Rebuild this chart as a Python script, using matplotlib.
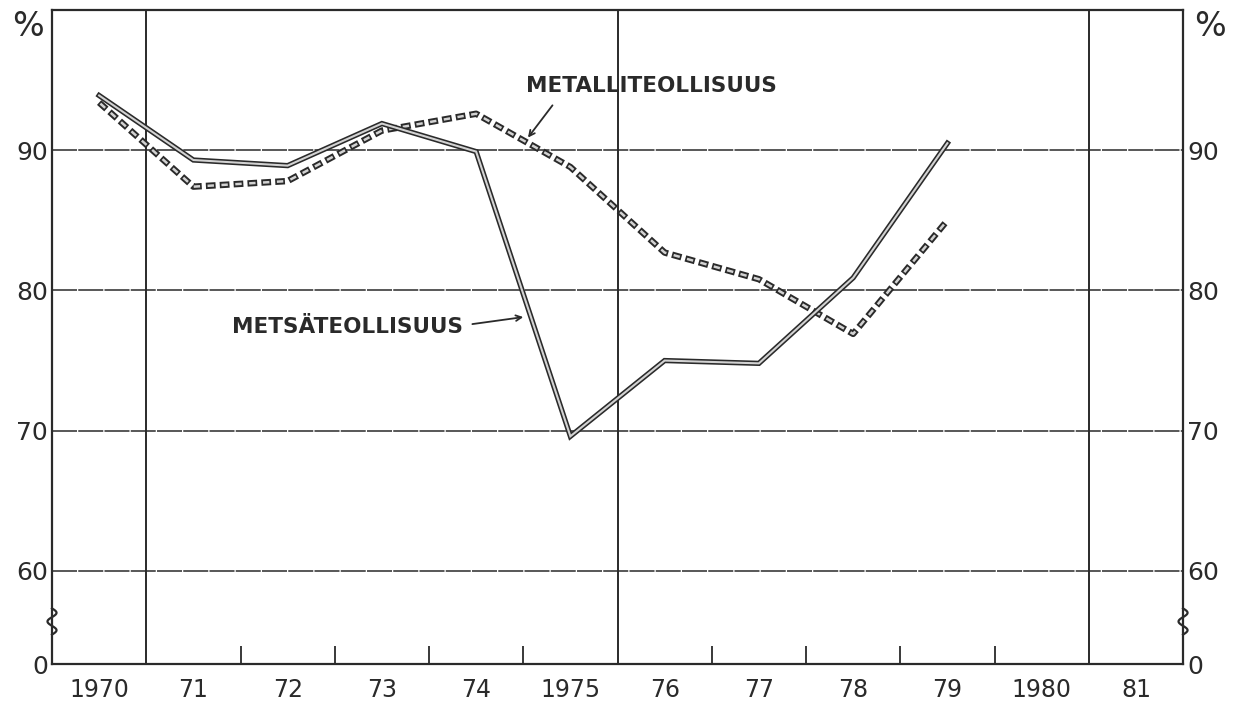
import matplotlib
matplotlib.use('Agg')
import matplotlib.pyplot as plt
import numpy as np

# ================= data =================
years = [1970, 1971, 1972, 1973, 1974, 1975, 1976, 1977, 1978, 1979]
metsa = [93.9, 89.3, 88.9, 91.9, 89.9, 69.6, 75.0, 74.8, 80.9, 90.5]   # Metsäteollisuus
metalli = [93.4, 87.4, 87.8, 91.4, 92.6, 88.8, 82.7, 80.8, 76.9, 85.0]  # Metalliteollisuus

year_labels = ['1970', '71', '72', '73', '74', '1975', '76', '77', '78', '79', '1980', '81']
y_grid = [60, 70, 80, 90]
y_bottom = 53.36   # broken axis, shown as "0"

# ================= style =================
plt.rcParams['font.family'] = ['DejaVu Sans']
plt.rcParams['lines.scale_dashes'] = False
INK = '#2a2a2a'
FILL = '#d2d2d2'

fig = plt.figure(figsize=(12.41, 7.07), dpi=100)
ax = fig.add_axes([0.0419, 0.0608, 0.9114, 0.9251])
ax.set_xlim(1970, 1982)
ax.set_ylim(y_bottom, 100)

# grid
for v in y_grid:
    ax.axhline(v, color=INK, lw=1.1, ls=(0, (18, 0.9)), zorder=1)
for x in [1971, 1976, 1981]:
    ax.axvline(x, color=INK, lw=1.4, zorder=1)

xs = np.array(years) + 0.5

# metalliteollisuus: hollow dashes
ax.plot(xs, metalli, color=INK, lw=4.6, ls=(0, (7, 3)),
        dash_capstyle='butt', zorder=3)
ax.plot(xs, metalli, color=FILL, lw=1.8, ls=(8.8, (4.6, 5.4)),
        dash_capstyle='butt', zorder=4)

# metsateollisuus: double line
ax.plot(xs, metsa, color=INK, lw=3.8, solid_joinstyle='miter', zorder=5)
ax.plot(xs, metsa, color=FILL, lw=1.5, solid_joinstyle='miter', zorder=6)

# annotations
ax.text(1975.03, 94.6, 'METALLITEOLLISUUS', fontsize=15.5, fontweight='bold',
        color=INK, ha='left', va='center')
ax.annotate('', xy=(1975.05, 90.9), xytext=(1975.31, 93.2),
            arrowprops=dict(arrowstyle='->', color=INK, lw=1.3, shrinkA=0, shrinkB=0))
ax.text(1974.36, 77.4, 'METSÄTEOLLISUUS', fontsize=15.5, fontweight='bold',
        color=INK, ha='right', va='center')
ax.annotate('', xy=(1975.0, 78.1), xytext=(1974.46, 77.6),
            arrowprops=dict(arrowstyle='->', color=INK, lw=1.3, shrinkA=0, shrinkB=0))

# x ticks: boundaries as short inward ticks, labels centred in each year
ax.set_xticks([1972, 1973, 1974, 1975, 1977, 1978, 1979, 1980])
ax.tick_params(axis='x', which='major', direction='in', length=13, width=1.3,
               color=INK, labelbottom=False)
ax.set_xticks(np.arange(1970, 1982) + 0.5, minor=True)
ax.set_xticklabels(year_labels, minor=True)
ax.tick_params(axis='x', which='minor', length=0, labelsize=17, pad=10, labelcolor=INK)

# y ticks on both sides
yt = [y_bottom] + y_grid
yl = ['0', '60', '70', '80', '90']
ax.set_yticks(yt)
ax.set_yticklabels(yl)
ax.tick_params(axis='y', length=0, labelsize=18, pad=3, labelcolor=INK,
               left=True, right=True, labelleft=True, labelright=True)

for s in ax.spines.values():
    s.set_color(INK)
    s.set_linewidth(1.6)

# "%" units
fig.text(0.0225, 0.962, '%', fontsize=24, color=INK, ha='center', va='center')
fig.text(0.975, 0.962, '%', fontsize=24, color=INK, ha='center', va='center')

# axis break squiggles on both spines
t = np.linspace(0, 1, 40)
for xa in [0.0, 1.0]:
    sx = xa + 0.004 * np.sin(t * 3 * np.pi)
    sy = 0.045 + 0.04 * t
    ax.plot(sx, sy, color=INK, lw=1.6, transform=ax.transAxes, clip_on=False, zorder=7)

fig.savefig('out.png', dpi=100, facecolor='white')
